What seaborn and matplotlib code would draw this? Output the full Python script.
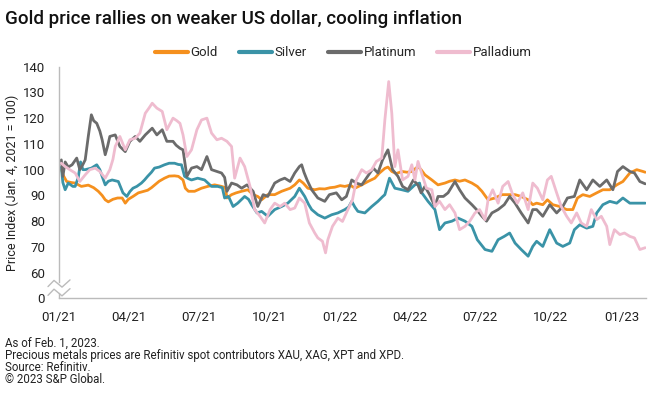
import matplotlib
matplotlib.use("Agg")
import matplotlib.pyplot as plt
import matplotlib.dates as mdates
import matplotlib.transforms as mtrans
import seaborn as sns
import pandas as pd

# Price index (Jan. 4, 2021 = 100).
# days = days after Jan. 1, 2021
gold_days = [3, 6, 10, 16, 21, 29, 38, 45, 51, 56, 60, 64, 70, 76, 82, 86, 90, 96, 103, 109,
             115, 120, 124, 130, 137, 143, 150, 155, 161, 164, 168, 176, 185, 193, 202, 211, 216, 218, 224, 230,
             237, 245, 252, 258, 263, 271, 280, 289, 300, 306, 312, 317, 323, 332, 338, 345, 352, 358, 365, 371,
             378, 384, 393, 401, 410, 416, 423, 427, 432, 438, 445, 452, 458, 466, 470, 475, 484, 492, 501, 507,
             514, 520, 527, 536, 543, 549, 557, 566, 575, 583, 592, 600, 609, 615, 620, 628, 634, 641, 650, 659,
             667, 673, 680, 689, 698, 706, 715, 724, 732, 741, 750, 758, 761]
gold = [100, 97.5, 95.4, 95, 94.8, 93.5, 94, 93, 91.6, 90, 88.3, 87.5, 88.5, 89, 89, 87, 88.5, 89.6, 91, 91.5,
        92, 93, 94, 95.5, 96.7, 97.5, 97.6, 97.4, 96, 92.8, 91.6, 91.6, 92.8, 93.5, 94.1, 93.5, 93, 89, 90.3, 91,
        91.6, 92.2, 90.3, 89.6, 88.3, 90.3, 90.3, 91.6, 92.8, 94.1, 96, 94.8, 92.8, 92.2, 92.6, 92.5, 93, 93.2, 93.8, 93.5,
        94, 92.8, 94.1, 95.4, 96.7, 98.7, 100.5, 101, 99.3, 98.5, 99.3, 99, 99.3, 101.2, 100, 98, 96, 94.1, 94.8, 95.5,
        96, 95.5, 96, 94.8, 93.5, 91.6, 88.3, 89, 90.3, 90.3, 90.3, 89.6, 88.3, 86.4, 87, 86.4, 88.3, 86.4, 85.7, 84.5,
        84.5, 89, 90.3, 89.6, 91, 92.2, 92.2, 94.1, 95.4, 98.7, 100, 99.3, 99]

silver_days = [3, 5, 8, 12, 18, 21, 25, 28, 31, 34, 42, 49, 53, 56, 60, 64, 69, 77, 83, 88,
               92, 96, 101, 107, 111, 115, 120, 124, 130, 137, 143, 150, 155, 159, 163, 168, 172, 180, 189, 198,
               206, 212, 215, 220, 226, 232, 241, 246, 250, 257, 263, 271, 280, 289, 297, 306, 312, 319, 324, 328,
               336, 345, 354, 362, 371, 376, 380, 384, 388, 397, 406, 414, 420, 423, 429, 436, 445, 453, 462, 468,
               471, 479, 488, 494, 501, 510, 518, 527, 536, 543, 553, 562, 570, 578, 585, 592, 600, 609, 615, 620,
               628, 637, 646, 654, 663, 669, 676, 685, 693, 698, 706, 715, 724, 732, 741, 750, 758, 761]
silver = [101, 95, 92.2, 94.8, 93.5, 93.5, 97, 103, 100, 100, 100.6, 101.9, 100, 97.4, 94.1, 95.5, 96, 95.4, 91, 89.6,
          91.5, 92.8, 93.5, 94.8, 96, 97.4, 99, 100.6, 101, 101.9, 102.5, 102.5, 102, 101.9, 97.4, 96.5, 96, 96.7, 96, 93.5,
          93.5, 93, 89, 89.6, 85.7, 87, 89.6, 88.5, 86.4, 83.2, 83.8, 81.9, 84.5, 85.7, 87, 89.6, 92.8, 89.6, 86.5, 84.5,
          82.5, 81.2, 82.5, 83.2, 84.5, 85.5, 87.7, 85.5, 83.8, 83.2, 85.7, 87.7, 89.5, 90.3, 96.7, 92.8, 92.2, 91.6, 94.1, 94.8,
          91, 87.7, 84.5, 76.7, 79.3, 80, 81.2, 80, 78, 72.8, 69, 68.3, 72.8, 74.1, 75.4, 71.5, 69, 66.4, 70.2, 72.2,
          70.2, 76.7, 71.5, 70.2, 71.5, 76.7, 78.6, 77.3, 78, 83.2, 86.4, 87.7, 87, 89, 87, 87, 87, 87]

platinum_days = [3, 5, 8, 12, 17, 23, 27, 31, 34, 38, 42, 45, 49, 53, 56, 60, 63, 66, 73, 79,
                 86, 92, 99, 105, 112, 121, 127, 134, 140, 148, 152, 157, 161, 166, 172, 179, 185, 192, 198, 205,
                 211, 215, 218, 224, 231, 237, 244, 252, 258, 265, 271, 280, 287, 293, 300, 306, 312, 315, 318, 322,
                 328, 336, 345, 351, 360, 367, 373, 380, 386, 393, 399, 408, 414, 420, 427, 433, 440, 446, 453, 460,
                 466, 470, 475, 481, 488, 492, 499, 505, 514, 520, 527, 536, 542, 549, 555, 562, 570, 578, 585, 592,
                 600, 609, 615, 620, 628, 637, 646, 654, 660, 669, 676, 685, 693, 702, 711, 719, 725, 732, 741, 747,
                 754, 761]
platinum = [103.8, 97.4, 103, 101, 101.9, 104.5, 100, 102, 103.8, 112.9, 121.3, 119, 118, 115, 111.6, 105.8, 109, 112.9, 113.5, 109,
            107, 111, 112.9, 111, 113.5, 116.1, 113.5, 115.5, 111, 111, 109.5, 108.3, 107.7, 97.4, 100.6, 101.2, 100, 105.1, 100, 99.3,
            98.7, 97, 91.6, 94.8, 94.1, 92.8, 94.1, 91.6, 85.7, 90.3, 89.6, 94.8, 96, 96.7, 95.4, 98.7, 101.2, 101.9, 99, 96,
            92.2, 89, 87.7, 90.3, 91, 88.3, 89.6, 96, 94.8, 94.1, 96.7, 100.6, 98.7, 103.8, 107.7, 100, 97.4, 93.5, 92.2, 96,
            94, 91, 93.5, 90.3, 85.7, 89.6, 89.6, 91, 95.4, 92.2, 89, 86.4, 84.5, 81.9, 80, 83.2, 84.5, 86.4, 89.6, 87,
            83.2, 79.3, 84.5, 84.5, 81.9, 86.4, 83.2, 85.7, 89, 89.6, 96, 92.2, 96, 93.5, 96, 92.2, 99.3, 101.2, 99.3, 98.7,
            95.4, 94.5]

palladium_days = [3, 8, 14, 21, 27, 34, 40, 47, 53, 60, 66, 70, 73, 79, 86, 92, 99, 105, 112, 117,
                  121, 127, 134, 140, 148, 153, 157, 161, 166, 172, 179, 185, 192, 198, 205, 211, 218, 224, 228, 235,
                  241, 248, 254, 261, 267, 274, 280, 287, 293, 300, 306, 312, 319, 325, 332, 336, 342, 346, 349, 355,
                  362, 368, 375, 381, 386, 393, 399, 406, 412, 419, 423, 428, 432, 436, 440, 446, 453, 458, 462, 466,
                  472, 477, 484, 488, 494, 501, 507, 514, 520, 527, 533, 540, 546, 553, 557, 563, 570, 576, 583, 589,
                  595, 602, 609, 615, 621, 628, 634, 639, 646, 652, 659, 665, 672, 678, 685, 691, 698, 704, 711, 715,
                  721, 728, 734, 741, 747, 754, 761]
palladium = [102.5, 101.2, 100, 98.7, 95.4, 98, 100, 100.6, 99.3, 96.7, 100, 104, 109, 112.9, 107.7, 111.6, 112.2, 114.2, 121.9, 124,
             125.8, 123.9, 122.6, 115.5, 120, 119, 118, 113.5, 105.1, 107.7, 115.5, 119.3, 120, 114.2, 111.6, 112.2, 111, 109, 96.7, 104.5,
             101.2, 93.5, 84.5, 81.9, 79.3, 84.5, 87, 85.7, 87, 84.5, 85.1, 89, 87, 79.3, 75.4, 73.5, 72.2, 67.7, 72.8, 78,
             81.2, 79.9, 84.5, 88.3, 96, 100, 98.7, 100, 103.2, 104.5, 119.3, 134.2, 121.9, 101.2, 107.7, 96, 97.4, 101.9, 96, 103.2,
             97.4, 92.8, 92.2, 85.7, 87.7, 84.5, 86.4, 83.2, 76.7, 78, 79.9, 83.2, 84.5, 80.6, 88.3, 92.2, 87, 93.5, 95.4, 90.3,
             87, 91, 84.5, 94.8, 92.8, 88.3, 96, 97.4, 91, 85.7, 81.9, 79.3, 83.2, 79.3, 78, 84.5, 80.6, 81.9, 78, 70.9,
             76.7, 74.8, 75.4, 74.1, 73.5, 69, 69.7]

metals = ["Gold", "Silver", "Platinum", "Palladium"]
colors = ["#F5901E", "#3A93A7", "#6B6B6B", "#EFBCCF"]
y_ticks = [50, 60, 70, 80, 90, 100, 110, 120, 130, 140]
y_labels = ["0", "60", "70", "80", "90", "100", "110", "120", "130", "140"]
x_ticks = ["2021-01-01", "2021-04-01", "2021-07-01", "2021-10-01", "2022-01-01",
           "2022-04-01", "2022-07-01", "2022-10-01", "2023-01-01"]

start = pd.Timestamp("2021-01-01")
frames = []
for name, days, vals in [("Gold", gold_days, gold), ("Silver", silver_days, silver),
                         ("Platinum", platinum_days, platinum), ("Palladium", palladium_days, palladium)]:
    frames.append(pd.DataFrame({"date": start + pd.to_timedelta(days, unit="D"),
                                "index": vals, "metal": name}))
df = pd.concat(frames, ignore_index=True)

sns.set_style("white")
plt.rcParams["font.family"] = ["Roboto", "DejaVu Sans"]

fig = plt.figure(figsize=(6.6, 3.99), dpi=100)
ax = fig.add_axes([0.0894, 0.252, 0.8894, 0.581])

sns.lineplot(data=df, x="date", y="index", hue="metal", hue_order=metals,
             palette=colors, estimator=None, linewidth=2.0, ax=ax, legend=False)

ax.set_ylim(50, 140)
ax.set_yticks(y_ticks)
ax.set_yticklabels(y_labels)
ax.set_xlim(pd.Timestamp("2021-01-01"), pd.Timestamp("2023-02-02"))
ax.set_xticks(pd.to_datetime(x_ticks))
ax.xaxis.set_major_formatter(mdates.DateFormatter("%m/%y"))
ax.tick_params(axis="both", length=0, labelsize=9.5, colors="#222222")
ax.tick_params(axis="x", pad=9)
ax.tick_params(axis="y", pad=10)
ax.set_xlabel("")
ax.set_ylabel("Price Index (Jan. 4, 2021 = 100)", fontsize=9, color="#222222", labelpad=3)

for s in ["top", "right"]:
    ax.spines[s].set_visible(False)
for s in ["left", "bottom"]:
    ax.spines[s].set_color("#BBBBBB")
    ax.spines[s].set_linewidth(1)
ax.spines["left"].set_bounds(56.5, 140)

# axis break marks
tr = mtrans.blended_transform_factory(ax.transAxes, ax.transData)
px = 1 / 587
ax.plot([-11 * px, -5 * px, 3 * px, 11 * px], [54.6, 57.0, 54.4, 57.2], color="#BBBBBB", lw=1,
        transform=tr, clip_on=False)
ax.plot([-11 * px, -5 * px, 3 * px, 11 * px], [51.2, 53.6, 51.0, 53.8], color="#BBBBBB", lw=1,
        transform=tr, clip_on=False)
ax.plot([0, 0], [50, 52.2], color="#BBBBBB", lw=1, transform=tr, clip_on=False)

handles = [plt.Line2D([], [], color=c, lw=3) for c in colors]
fig.legend(handles, metals, loc="center", bbox_to_anchor=(0.52, 0.868), ncol=4, frameon=False,
           fontsize=9.5, handlelength=2.5, handletextpad=0.2, columnspacing=1.6)

fig.text(0.008, 0.952, "Gold price rallies on weaker US dollar, cooling inflation",
         fontsize=13.5, fontweight="medium", color="#111111", va="center")

notes = ["As of Feb. 1, 2023.",
         "Precious metals prices are Refinitiv spot contributors XAU, XAG, XPT and XPD.",
         "Source: Refinitiv.",
         "\u00a9 2023 S&P Global."]
for i, line in enumerate(notes):
    fig.text(0.008, 1 - (343 + i * 12.3) / 399, line, fontsize=8.3, color="#222222", va="center")

plt.savefig("out.png", dpi=100)
